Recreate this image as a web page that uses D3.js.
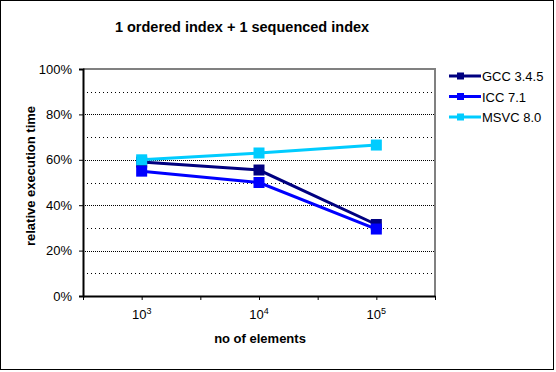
<!DOCTYPE html>
<html>
<head>
<meta charset="utf-8">
<script src="https://cdn.jsdelivr.net/npm/d3@7"></script>
<style>
  body { margin: 0; background: #fff; }
  text { font-family: "Liberation Sans", Arial, sans-serif; fill: #000; }
</style>
</head>
<body>
<div id="chart"></div>
<script>
// data
var categories = ["3", "4", "5"]            // exponents of 10
var gccValues  = [0.59, 0.555, 0.315]
var iccValues  = [0.55, 0.50, 0.295]
var msvcValues = [0.60, 0.63, 0.665]
var seriesNames = ["GCC 3.4.5", "ICC 7.1", "MSVC 8.0"]
var seriesColors = ["#000080", "#0000ff", "#00ccff"]
var yTicks = [0, 0.2, 0.4, 0.6, 0.8, 1.0]
var gridValues = [0.1, 0.2, 0.3, 0.4, 0.5, 0.6, 0.7, 0.8, 0.9]

var series = [
  {name: seriesNames[0], color: seriesColors[0], values: gccValues},
  {name: seriesNames[1], color: seriesColors[1], values: iccValues},
  {name: seriesNames[2], color: seriesColors[2], values: msvcValues}
]

var W = 556, H = 372
var plot = {left: 83, right: 435, top: 69, bottom: 296}

var svg = d3.select("#chart").append("svg")
  .attr("width", W).attr("height", H)

// outer frame
svg.append("rect")
  .attr("x", 0.5).attr("y", 0.5)
  .attr("width", 553).attr("height", 369)
  .attr("fill", "#fff").attr("stroke", "#000")

// scales
var xScale = d3.scaleBand().domain(categories).range([plot.left, plot.right])
var xEdge = d3.scaleLinear().domain([0, categories.length]).range([plot.left, plot.right])
var yScale = d3.scaleLinear().domain([0, 1]).range([plot.bottom, plot.top])

// gridlines (dotted)
svg.selectAll(".grid")
  .data(gridValues)
  .enter()
  .append("line")
  .attr("class", "grid")
  .attr("x1", plot.left).attr("x2", plot.right)
  .attr("y1", function(d) { return Math.round(yScale(d)) + 0.5 })
  .attr("y2", function(d) { return Math.round(yScale(d)) + 0.5 })
  .attr("stroke", "#000")
  .attr("stroke-width", 1)
  .attr("stroke-dasharray", function(d, i) { return i % 2 == 1 ? "1,1" : "1,3" })

// gray top and right border
svg.append("path")
  .attr("d", "M" + plot.left + "," + plot.top + "H" + plot.right + "V" + plot.bottom)
  .attr("fill", "none")
  .attr("stroke", "#808080")
  .attr("stroke-width", 2)

// y axis
var yAxis = svg.append("g")
  .attr("transform", "translate(" + plot.left + ",0)")
  .call(d3.axisLeft(yScale).tickValues(yTicks).tickFormat(d3.format(".0%")).tickSize(4).tickPadding(7))
yAxis.select(".domain").attr("stroke-width", 2)
yAxis.selectAll("text").attr("font-size", 13).attr("font-family", "Liberation Sans, Arial, sans-serif")

// x axis tick marks at band edges and centres
var xTickAxis = svg.append("g")
  .attr("transform", "translate(0," + plot.bottom + ")")
  .call(d3.axisBottom(xEdge).tickValues(d3.range(0, categories.length + 0.01, 0.5)).tickFormat("").tickSize(4).tickSizeOuter(0))
xTickAxis.select(".domain").attr("stroke-width", 2)

// x labels with superscripts
var xLabels = svg.append("g")
  .attr("transform", "translate(0," + plot.bottom + ")")
  .call(d3.axisBottom(xScale).tickSize(0).tickPadding(14).tickFormat(""))
xLabels.select(".domain").remove()
xLabels.selectAll(".tick text").each(function(d) {
  var t = d3.select(this)
    .attr("font-size", 13)
    .attr("font-family", "Liberation Sans, Arial, sans-serif")
  t.append("tspan").text("10")
  t.append("tspan").text(d).attr("font-size", 9).attr("dy", -5)
})

// lines and markers
var line = d3.line()
  .x(function(d, i) { return xScale(categories[i]) + xScale.bandwidth() / 2 })
  .y(function(d) { return yScale(d) })

var ms = 11
series.forEach(function(s) {
  svg.append("path")
    .datum(s.values)
    .attr("d", line)
    .attr("fill", "none")
    .attr("stroke", s.color)
    .attr("stroke-width", 3)
  svg.selectAll(null)
    .data(s.values)
    .enter()
    .append("rect")
    .attr("x", function(d, i) { return xScale(categories[i]) + xScale.bandwidth() / 2 - ms / 2 })
    .attr("y", function(d) { return yScale(d) - ms / 2 })
    .attr("width", ms).attr("height", ms)
    .attr("fill", s.color)
})

// legend
var legend = svg.append("g")
var legendRows = legend.selectAll("g")
  .data(series)
  .enter()
  .append("g")
  .attr("transform", function(d, i) { return "translate(449," + (76 + i * 20.5) + ")" })
legendRows.append("line")
  .attr("x1", 0).attr("x2", 32).attr("y1", 0).attr("y2", 0)
  .attr("stroke", function(d) { return d.color })
  .attr("stroke-width", 3)
legendRows.append("rect")
  .attr("x", 8).attr("y", -3.5).attr("width", 7).attr("height", 7)
  .attr("fill", function(d) { return d.color })
legendRows.append("text")
  .attr("x", 33).attr("y", 5)
  .attr("font-size", 13)
  .text(function(d) { return d.name })

// titles
svg.append("text")
  .attr("x", 242).attr("y", 32)
  .attr("text-anchor", "middle")
  .attr("font-size", 14.5).attr("font-weight", "bold")
  .text("1 ordered index + 1 sequenced index")

svg.append("text")
  .attr("x", 260).attr("y", 343)
  .attr("text-anchor", "middle")
  .attr("font-size", 13).attr("font-weight", "bold")
  .text("no of elements")

svg.append("text")
  .attr("transform", "translate(35,176) rotate(-90)")
  .attr("text-anchor", "middle")
  .attr("font-size", 13).attr("font-weight", "bold")
  .text("relative execution time")
</script>
</body>
</html>
